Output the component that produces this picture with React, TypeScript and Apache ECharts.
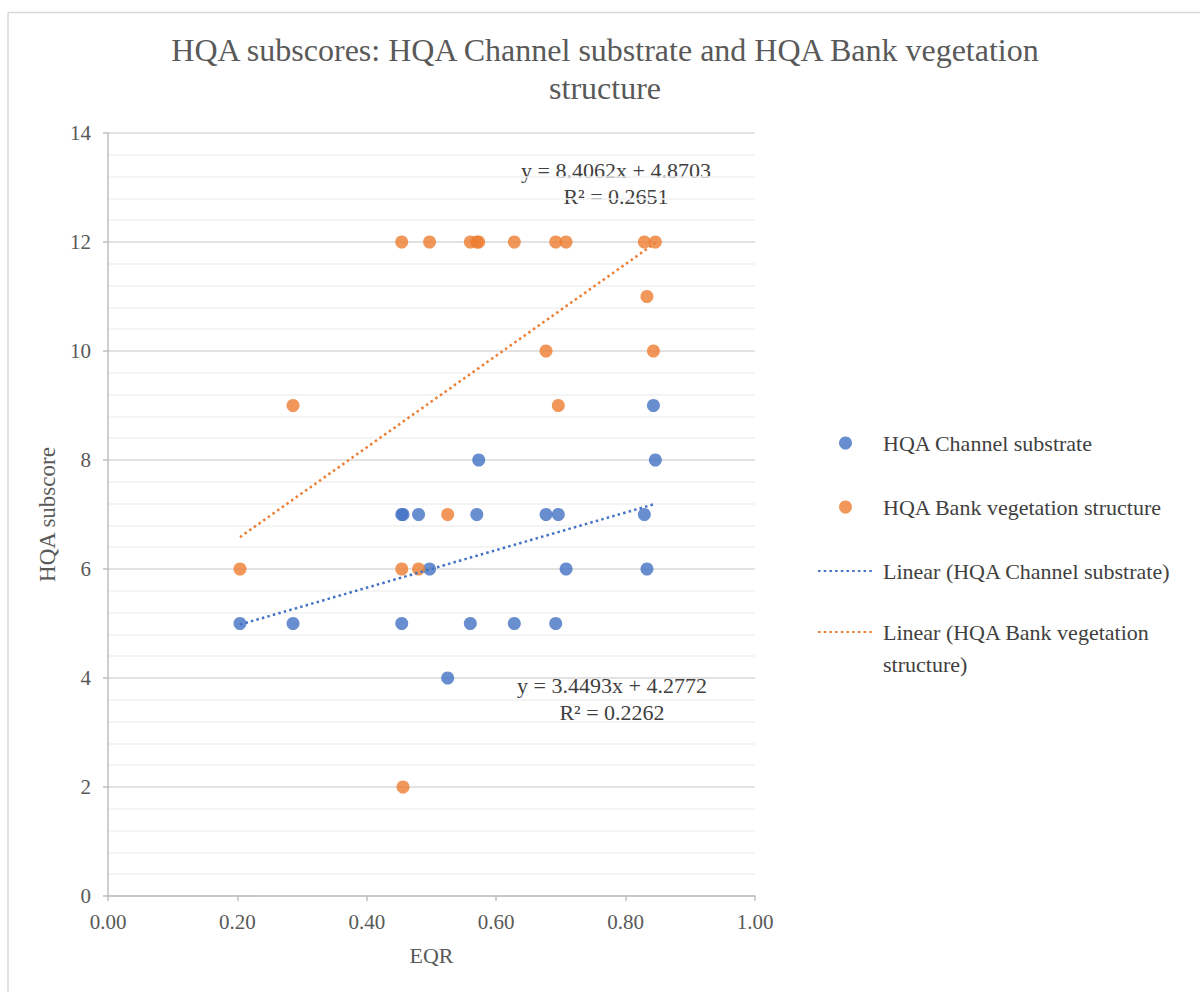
import React, { useEffect, useRef } from "react";
import * as echarts from "echarts";

// Paired sites: EQR (x) with the two HQA subscores (y)
const eqr = [0.204, 0.286, 0.454, 0.454, 0.456, 0.48, 0.497, 0.525, 0.56, 0.57, 0.573, 0.628, 0.677, 0.692, 0.696, 0.708, 0.829, 0.833, 0.843, 0.846];
const channelSubstrate = [5, 5, 5, 7, 7, 7, 6, 4, 5, 7, 8, 5, 7, 5, 7, 6, 7, 6, 9, 8];
const bankVegetation = [6, 9, 12, 6, 2, 6, 12, 7, 12, 12, 12, 12, 10, 12, 9, 12, 12, 11, 10, 12];

// Linear trendline coefficients: [slope, intercept, R²]
const channelFit = [3.4493, 4.2772, 0.2262];
const bankFit = [8.4062, 4.8703, 0.2651];

const seriesNames = [
  "HQA Channel substrate",
  "HQA Bank vegetation structure",
  "Linear (HQA Channel substrate)",
  "Linear (HQA Bank vegetation structure)",
];
const titleText = "HQA subscores: HQA Channel substrate and HQA Bank vegetation\nstructure";
const xAxisName = "EQR";
const yAxisName = "HQA subscore";

const FONT = "'Liberation Serif', 'Times New Roman', serif";
const BLUE = "#4472C4";
const ORANGE = "#ED7D31";
const HIDDEN_SYMBOL = { opacity: 0, color: "rgba(0,0,0,0)", borderWidth: 0 };

export default function App() {
  const ref = useRef<HTMLDivElement>(null);

  useEffect(() => {
    if (!ref.current) return;
    const chart = echarts.init(ref.current, null, { renderer: "svg" });
    const xmin = Math.min(...eqr);
    const xmax = Math.max(...eqr);
    const fitLine = (f: number[]) => [
      [xmin, f[0] * xmin + f[1]],
      [xmax, f[0] * xmax + f[1]],
    ];
    const eqText = (f: number[]) =>
      `y = ${f[0].toFixed(4)}x + ${f[1].toFixed(4)}\nR² = ${f[2].toFixed(4)}`;

    chart.setOption({
      animation: false,
      backgroundColor: "#ffffff",
      title: {
        text: titleText,
        left: 605,
        top: 31,
        padding: 0,
        textAlign: "center",
        textStyle: {
          fontFamily: FONT,
          fontSize: 32,
          fontWeight: "normal",
          color: "#595959",
          lineHeight: 38,
        },
      },
      grid: { left: 108, top: 133, width: 647, height: 763 },
      legend: [
        {
          orient: "vertical",
          left: 817,
          top: 432,
          padding: 0,
          itemWidth: 55,
          itemHeight: 13,
          itemGap: 42,
          data: [
            seriesNames[0],
            seriesNames[1],
            { name: seriesNames[2], itemStyle: HIDDEN_SYMBOL },
          ],
          textStyle: {
            fontFamily: FONT,
            fontSize: 22,
            color: "#404040",
            lineHeight: 20,
            padding: [0, 0, 0, 5],
          },
        },
        {
          orient: "vertical",
          left: 817,
          top: 584,
          padding: 0,
          itemWidth: 55,
          itemHeight: 13,
          data: [{ name: seriesNames[3], itemStyle: HIDDEN_SYMBOL }],
          formatter: () => "\nLinear (HQA Bank vegetation\nstructure)",
          textStyle: {
            fontFamily: FONT,
            fontSize: 22,
            color: "#404040",
            lineHeight: 32,
            padding: [0, 0, 0, 5],
          },
        },
      ],
      xAxis: {
        type: "value",
        min: 0,
        max: 1,
        interval: 0.2,
        name: xAxisName,
        nameLocation: "middle",
        nameGap: 48,
        nameTextStyle: { fontFamily: FONT, fontSize: 22, color: "#595959" },
        axisLine: { show: true, lineStyle: { color: "#bfbfbf", width: 1.5 } },
        axisTick: { show: true, length: 5, lineStyle: { color: "#bfbfbf", width: 1.5 } },
        axisLabel: {
          fontFamily: FONT,
          fontSize: 21,
          color: "#595959",
          margin: 15,
          formatter: (v: number) => v.toFixed(2),
        },
        splitLine: { show: false },
      },
      yAxis: {
        type: "value",
        min: 0,
        max: 14,
        interval: 2,
        name: yAxisName,
        nameLocation: "middle",
        nameGap: 48,
        nameRotate: 90,
        nameTextStyle: { fontFamily: FONT, fontSize: 23, color: "#595959" },
        axisLine: { show: true, lineStyle: { color: "#bfbfbf", width: 1.5 } },
        axisTick: { show: true, length: 5, lineStyle: { color: "#bfbfbf", width: 1.5 } },
        axisLabel: { fontFamily: FONT, fontSize: 21, color: "#595959", margin: 17 },
        splitLine: { show: true, lineStyle: { color: "#d9d9d9", width: 1.5 } },
        minorTick: { show: false, splitNumber: 5 },
        minorSplitLine: { show: true, lineStyle: { color: "#f0f0f0", width: 1.5 } },
      },
      series: [
        {
          name: seriesNames[0],
          type: "scatter",
          symbol: "circle",
          symbolSize: 13,
          itemStyle: { color: BLUE },
          data: eqr.map((x, i) => [x, channelSubstrate[i]]),
        },
        {
          name: seriesNames[1],
          type: "scatter",
          symbol: "circle",
          symbolSize: 13,
          itemStyle: { color: ORANGE },
          data: eqr.map((x, i) => [x, bankVegetation[i]]),
        },
        {
          name: seriesNames[2],
          type: "line",
          symbol: "none",
          showSymbol: false,
          color: BLUE,
          lineStyle: { color: BLUE, width: 2.5, type: [2.5, 3.2] },
          data: fitLine(channelFit),
        },
        {
          name: seriesNames[3],
          type: "line",
          symbol: "none",
          showSymbol: false,
          color: ORANGE,
          lineStyle: { color: ORANGE, width: 2.5, type: [2.5, 3.2] },
          data: fitLine(bankFit),
        },
      ],
      graphic: [
        {
          type: "line",
          shape: { x1: 8, y1: 12.5, x2: 1200, y2: 12.5 },
          style: { stroke: "#d9d9d9", lineWidth: 1.5 },
          silent: true,
        },
        {
          type: "line",
          shape: { x1: 8, y1: 12.5, x2: 8, y2: 992 },
          style: { stroke: "#d9d9d9", lineWidth: 1.5 },
          silent: true,
        },
        {
          type: "text",
          x: 616,
          y: 183,
          style: {
            text: eqText(bankFit),
            fontFamily: FONT,
            fontSize: 22,
            lineHeight: 26,
            fill: "#404040",
            align: "center",
            verticalAlign: "middle",
          },
        },
        {
          type: "text",
          x: 612,
          y: 699,
          style: {
            text: eqText(channelFit),
            fontFamily: FONT,
            fontSize: 22,
            lineHeight: 27,
            fill: "#404040",
            align: "center",
            verticalAlign: "middle",
          },
        },
      ],
    });

    return () => chart.dispose();
  }, []);

  return (
    <div
      ref={ref}
      style={{ position: "fixed", left: 0, top: 0, width: 1200, height: 992, background: "#fff" }}
    />
  );
}
